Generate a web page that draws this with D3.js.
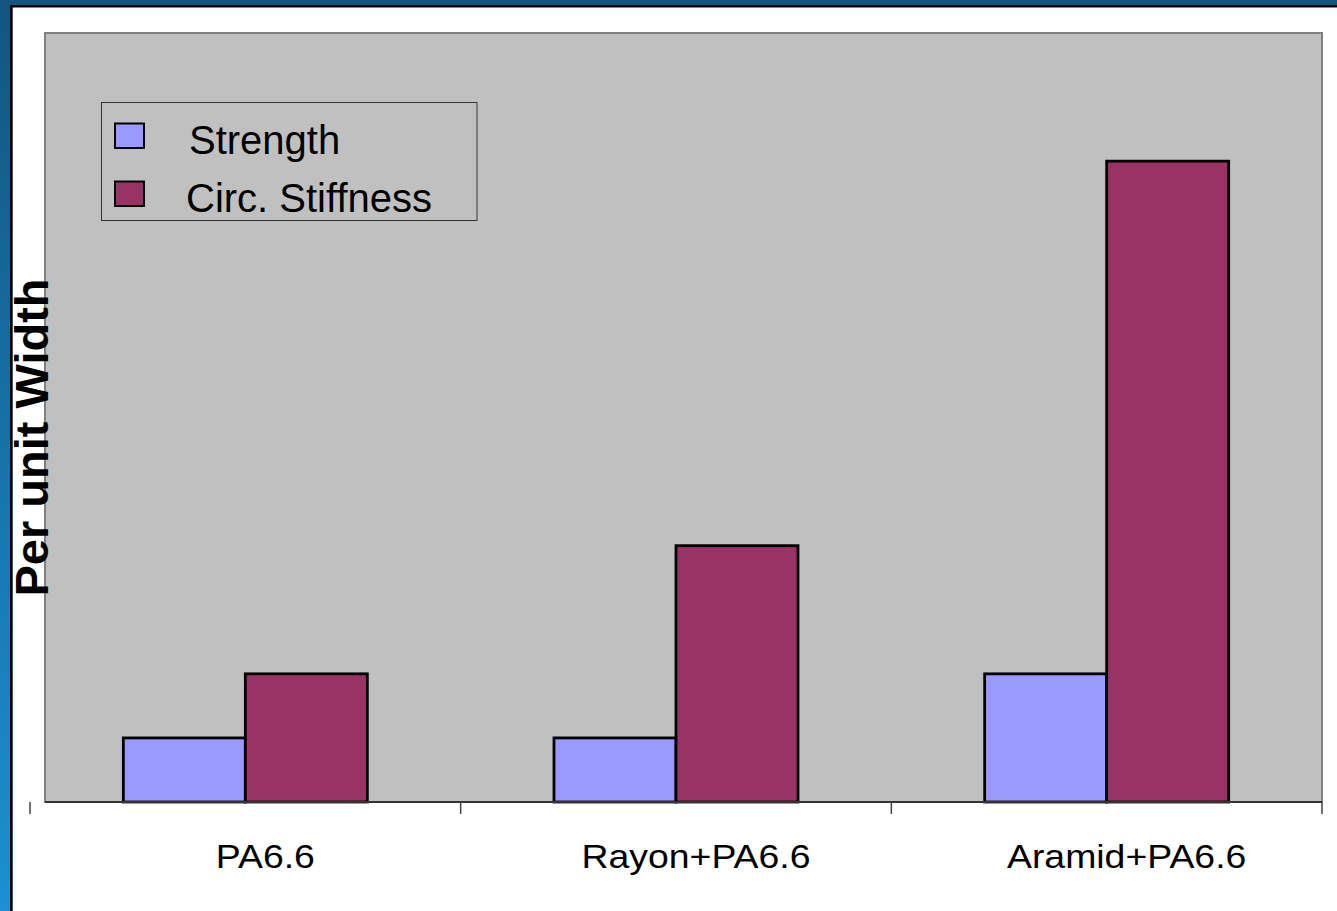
<!DOCTYPE html>
<html><head><meta charset="utf-8">
<script src="https://cdn.jsdelivr.net/npm/d3@7"></script>
<style>html,body{margin:0;padding:0;overflow:hidden;background:#fff}svg{display:block}text{font-family:"Liberation Sans",Arial,sans-serif}</style>
</head><body>
<svg id="c" width="1337" height="911"></svg>
<script>
const categories = ["PA6.6", "Rayon+PA6.6", "Aramid+PA6.6"];
const seriesNames = ["Strength", "Circ. Stiffness"];
const strengthValues = [1, 1, 2];
const stiffnessValues = [2, 4, 10];
const seriesColors = ["#9999FF", "#993366"];
const yLabel = "Per unit Width";

const svg = d3.select("#c");
const W = 1337, H = 911;

// frame
const defs = svg.append("defs");
const g1 = defs.append("linearGradient").attr("id","bgGrad").attr("x1",0).attr("y1",0).attr("x2",0).attr("y2",1);
g1.append("stop").attr("offset","0%").attr("stop-color","#13557f");
g1.append("stop").attr("offset","100%").attr("stop-color","#1b90d3");
svg.append("rect").attr("width",W).attr("height",H).attr("fill","url(#bgGrad)");
svg.append("rect").attr("x",10).attr("y",5).attr("width",W).attr("height",H).attr("fill","#000");
svg.append("rect").attr("x",12.7).attr("y",7.5).attr("width",W).attr("height",H).attr("fill","#fff");

const plot = {left:45, top:33, right:1322, bottom:802};
const axisStart = 30;

const x0 = d3.scaleBand().domain(categories).range([axisStart, plot.right]).paddingInner(0).paddingOuter(0);
const x1 = d3.scaleBand().domain(seriesNames).range([0, x0.bandwidth()]).paddingInner(0).paddingOuter(0.765);
const y = d3.scaleLinear().domain([0, 12]).range([plot.bottom, plot.top]);

// plot area
svg.append("rect").attr("x",plot.left).attr("y",plot.top)
  .attr("width",plot.right-plot.left).attr("height",plot.bottom-plot.top)
  .attr("fill","#C0C0C0").attr("stroke","#808080").attr("stroke-width",2);

const rows = categories.map((c,i)=>({cat:c, vals:[strengthValues[i], stiffnessValues[i]]}));
const color = d3.scaleOrdinal().domain(seriesNames).range(seriesColors);

svg.append("g").selectAll("g").data(rows).join("g")
  .attr("transform", d=>`translate(${x0(d.cat)},0)`)
  .selectAll("rect").data(d=>d.vals.map((v,j)=>({s:seriesNames[j], v})))
  .join("rect")
  .attr("x", d=>x1(d.s)).attr("width", x1.bandwidth())
  .attr("y", d=>y(d.v)).attr("height", d=>y(0)-y(d.v))
  .attr("fill", d=>color(d.s)).attr("stroke","#000").attr("stroke-width",2.8);

// axis line
svg.append("line").attr("x1",plot.left).attr("x2",plot.right).attr("y1",plot.bottom).attr("y2",plot.bottom)
  .attr("stroke","#333").attr("stroke-width",2);

// ticks at band boundaries
const tickPos = categories.map(c=>x0(c)).concat([x0.range()[1]]);
svg.append("g").selectAll("line").data(tickPos).join("line")
  .attr("x1",d=>d).attr("x2",d=>d).attr("y1",plot.bottom).attr("y2",plot.bottom+12)
  .attr("stroke","#444").attr("stroke-width",1.5);

// category labels
svg.append("g").selectAll("text").data(categories).join("text")
  .attr("x", d=>x0(d)+x0.bandwidth()/2+20).attr("y", 868)
  .attr("text-anchor","middle").attr("font-size",34).attr("fill","#000")
  .text(d=>d)
  .each(function(){ const L=this.getComputedTextLength(); d3.select(this).attr("textLength",L*1.1).attr("lengthAdjust","spacingAndGlyphs"); });

// y label
svg.append("text").attr("transform","translate(48,437.5) rotate(-90)")
  .attr("text-anchor","middle").attr("font-size",47).attr("font-weight","bold").attr("fill","#000")
  .text(yLabel);

// legend
const lg = svg.append("g");
lg.append("rect").attr("x",101.5).attr("y",102.5).attr("width",375.5).attr("height",118)
  .attr("fill","#C0C0C0").attr("stroke","#333").attr("stroke-width",1);
const items = lg.selectAll("g.it").data(seriesNames).join("g").attr("class","it")
  .attr("transform",(d,i)=>`translate(0,${i*58})`);
items.append("rect").attr("x",115).attr("y",123.5).attr("width",29).attr("height",24.5)
  .attr("fill",d=>color(d)).attr("stroke","#000").attr("stroke-width",2);
items.append("text").attr("x",(d,i)=>i===0?189:186).attr("y",154).attr("font-size",40).attr("fill","#000").text(d=>d);
</script>
</body></html>
